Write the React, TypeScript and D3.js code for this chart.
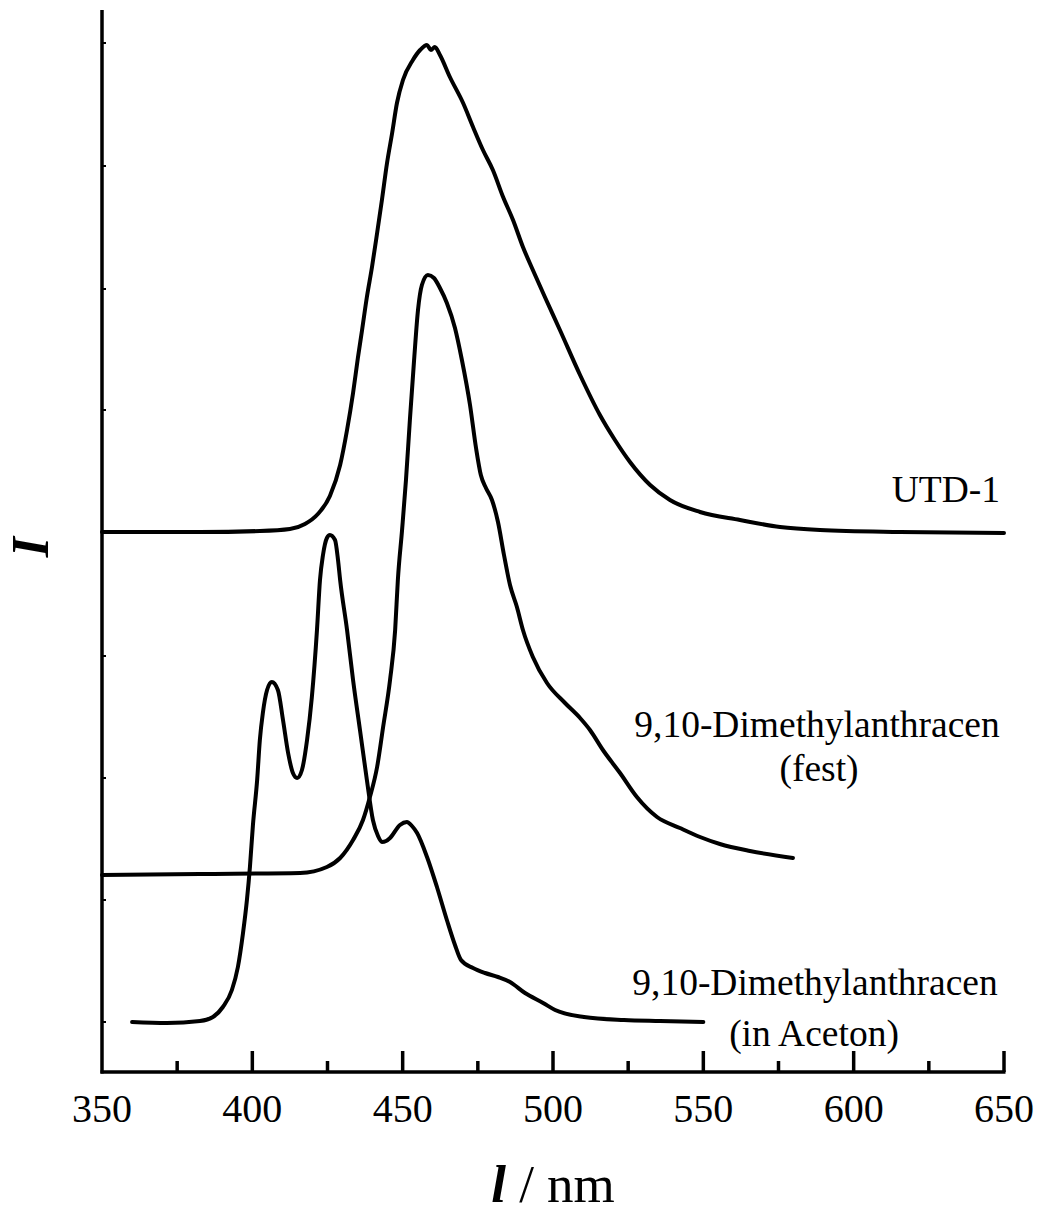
import React from "react";
import * as d3 from "d3";

// [wavelength nm, intensity a.u.]
const utd1: [number, number][] = [
  [350, 540], [382.6, 540], [402.5, 541], [412.5, 543], [417.5, 548], [421.8, 558], [425.8, 576],
  [429.2, 607], [431.5, 642], [433.5, 679], [435.1, 714], [436.5, 742], [438.1, 775], [439.8, 805],
  [441.5, 839], [443.1, 872], [444.8, 909], [446.5, 939], [448.1, 969], [450.1, 992], [453.4, 1012],
  [455.8, 1022], [458.1, 1027], [459.4, 1022], [460.7, 1025], [462.4, 1017], [465.7, 995], [470.1, 969],
  [473.4, 945], [476.7, 922], [480.0, 902], [483.4, 875], [486.7, 852], [490.0, 825], [493.3, 802],
  [497.3, 775], [502.3, 742], [509.0, 697], [515.6, 657], [520.6, 632], [525.6, 610], [532.3, 587],
  [538.9, 572], [548.9, 560], [562.2, 552], [575.5, 545], [588.8, 542], [615.4, 540], [650, 539],
];

const dmaSolid: [number, number][] = [
  [350, 197], [382.6, 198], [415.9, 199], [424.8, 205], [429.2, 214], [433.5, 232], [436.8, 252],
  [439.1, 275], [441.5, 305], [443.5, 345], [445.8, 392], [447.5, 442], [448.4, 492], [449.8, 542],
  [451.1, 592], [452.4, 652], [453.8, 712], [455.1, 762], [456.4, 787], [458.4, 797], [460.4, 794],
  [462.4, 784], [464.7, 769], [467.4, 744], [469.7, 712], [472.4, 667], [474.4, 624], [476.0, 597],
  [477.7, 584], [479.7, 572], [481.7, 550], [483.7, 517], [485.7, 487], [488.0, 465], [490.0, 442],
  [493.3, 415], [498.0, 389], [504.0, 369], [509.0, 354], [512.3, 342], [516.6, 322], [522.3, 299],
  [527.9, 275], [534.6, 255], [542.2, 244], [548.9, 235], [555.5, 228], [565.5, 221], [579.8, 214],
];

const dmaAcetone: [number, number][] = [
  [360.0, 50], [371.6, 49], [382.6, 51], [386.9, 55], [390.2, 65], [393.2, 82], [395.2, 105],
  [396.9, 139], [398.2, 172], [399.2, 205], [400.2, 247], [401.6, 292], [402.5, 332], [403.5, 359],
  [404.9, 382], [406.5, 390], [408.5, 382], [410.2, 352], [411.9, 319], [413.5, 299], [414.9, 294],
  [416.5, 302], [418.2, 332], [419.8, 375], [421.5, 442], [422.5, 492], [423.5, 517], [424.8, 534],
  [425.8, 537], [427.5, 532], [428.5, 512], [429.2, 492], [431.5, 442], [433.5, 392], [435.8, 342],
  [438.1, 292], [440.1, 252], [441.8, 236], [443.1, 230], [444.5, 231], [445.8, 234], [449.1, 247],
  [451.4, 250], [453.1, 246], [454.8, 239], [458.1, 215], [461.4, 185], [464.7, 152], [467.4, 127],
  [469.4, 112], [473.4, 104], [477.4, 99], [481.7, 95], [485.7, 90], [490.7, 79], [496.7, 69],
  [500.7, 62], [510.3, 55], [523.6, 52], [535.6, 51], [550, 50],
];

const xMajorTicks = [400, 450, 500, 550, 600, 650];
const xMinorTicks = [375, 425, 475, 525, 575, 625];
const xTickLabels = [350, 400, 450, 500, 550, 600, 650];
const yTicks = [50, 172, 294, 416, 539, 662, 783, 906, 1029];

const W = 1041;
const H = 1214;

export default function App() {
  const x = d3.scaleLinear().domain([350, 650]).range([102, 1004]);
  const y = d3.scaleLinear().domain([0, 1062]).range([1072, 10]);
  const line = d3
    .line<[number, number]>()
    .x((d) => x(d[0]))
    .y((d) => y(d[1]))
    .curve(d3.curveMonotoneX);

  const font = "'Liberation Serif', 'Times New Roman', serif";
  const series = [utd1, dmaSolid, dmaAcetone];

  return (
    <svg
      width={W}
      height={H}
      style={{ position: "absolute", left: 0, top: 0, background: "#fff" }}
      fontFamily={font}
    >
      <rect width={W} height={H} fill="#fff" />
      {/* axes */}
      <line x1={x(350)} x2={x(350)} y1={y(1062)} y2={y(0) + 1.5} stroke="#000" strokeWidth={3.5} />
      <line x1={x(350) - 1.5} x2={x(650) + 1.5} y1={y(0)} y2={y(0)} stroke="#000" strokeWidth={3.5} />
      {xMajorTicks.map((t) => (
        <line key={"M" + t} x1={x(t)} x2={x(t)} y1={y(0)} y2={y(0) - 21} stroke="#000" strokeWidth={3.5} />
      ))}
      {xMinorTicks.map((t) => (
        <line key={"m" + t} x1={x(t)} x2={x(t)} y1={y(0)} y2={y(0) - 11} stroke="#000" strokeWidth={3.5} />
      ))}
      {yTicks.map((t) => (
        <line key={"y" + t} x1={x(350)} x2={x(350) + 4} y1={y(t)} y2={y(t)} stroke="#000" strokeWidth={2} />
      ))}
      {xTickLabels.map((t) => (
        <text key={"l" + t} x={x(t)} y={1122} fontSize={40} textAnchor="middle" fill="#000">
          {t}
        </text>
      ))}
      {/* curves */}
      {series.map((s, i) => (
        <path
          key={i}
          d={line(s) || ""}
          fill="none"
          stroke="#000"
          strokeWidth={4}
          strokeLinejoin="round"
          strokeLinecap="round"
        />
      ))}
      {/* labels */}
      <text x={1000} y={502} fontSize={37.5} textAnchor="end" fill="#000">UTD-1</text>
      <text x={817} y={737} fontSize={37.5} textAnchor="middle" fill="#000">9,10-Dimethylanthracen</text>
      <text x={819} y={781} fontSize={37.5} textAnchor="middle" fill="#000">(fest)</text>
      <text x={815} y={995} fontSize={37.5} textAnchor="middle" fill="#000">9,10-Dimethylanthracen</text>
      <text x={814} y={1046} fontSize={37.5} textAnchor="middle" fill="#000">(in Aceton)</text>
      {/* axis titles */}
      <text x={553} y={1202} fontSize={53} textAnchor="middle" fill="#000">
        <tspan fontStyle="italic" fontWeight="bold">l</tspan>
        <tspan> / nm</tspan>
      </text>
      <text
        transform={`translate(48, 547) rotate(-90)`}
        fontSize={52}
        textAnchor="middle"
        fontStyle="italic"
        fontWeight="bold"
        fill="#000"
      >
        I
      </text>
    </svg>
  );
}
